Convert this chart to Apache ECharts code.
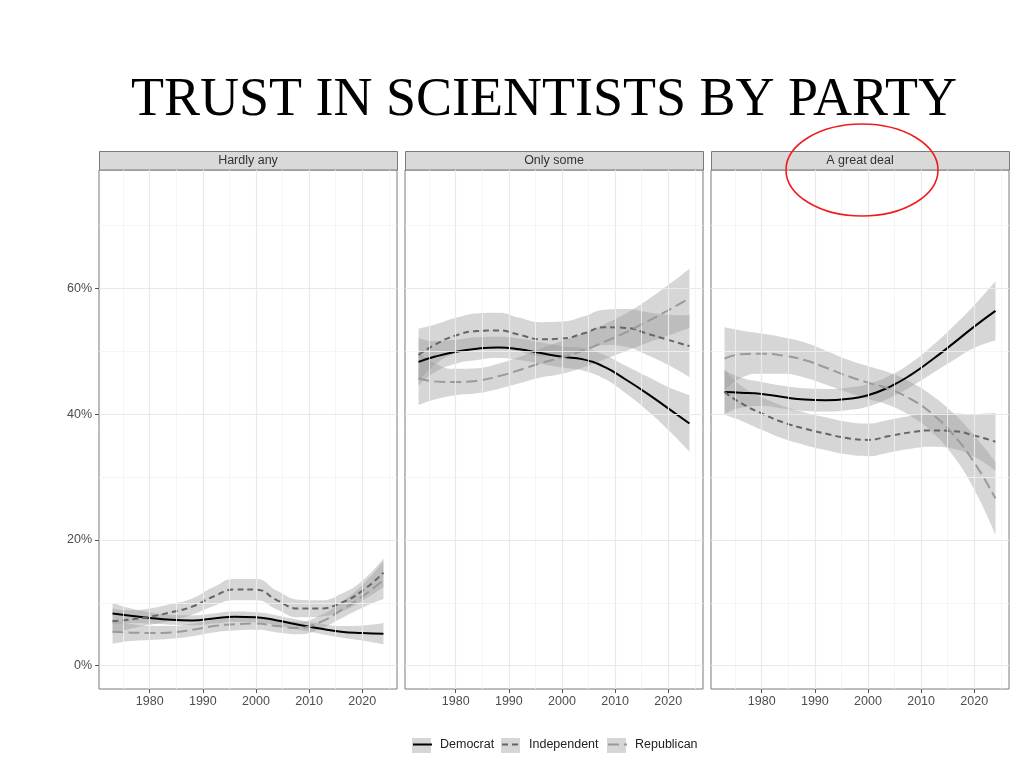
<!DOCTYPE html>
<html>
<head>
<meta charset="utf-8">
<title>Trust in scientists by party</title>
<script src="https://cdn.jsdelivr.net/npm/echarts@6/dist/echarts.min.js"></script>
<style>
  html, body { margin: 0; padding: 0; background: #fff; }
  #chart { width: 1024px; height: 777px; }
</style>
</head>
<body>
<div id="chart"></div>
<script>
const years = [1973, 1976, 1980, 1984, 1988, 1992, 1996, 2000, 2004, 2008, 2012, 2016, 2020, 2024];
const panels = ['Hardly any', 'Only some', 'A great deal'];
const parties = ['Democrat', 'Independent', 'Republican'];
const yearTicks = [1980, 1990, 2000, 2010, 2020];
const yearMinor = [1975, 1985, 1995, 2005, 2015, 2025];
const pctTicks = [0, 20, 40, 60];
const pctMinor = [10, 30, 50, 70];

// loess trend (%) and half width of its ribbon
const demHardly   = [8.3, 8.0, 7.6, 7.3, 7.2, 7.5, 7.8, 7.7, 7.2, 6.5, 5.9, 5.4, 5.2, 5.1];
const demHardlySe = [1.7, 1.2, 0.9, 0.8, 0.8, 0.8, 0.8, 0.8, 0.8, 0.8, 0.8, 0.9, 1.2, 1.7];
const indHardly   = [7.1, 7.3, 7.8, 8.5, 9.4, 11.0, 12.1, 12.1, 10.4, 9.1, 9.1, 10.0, 11.9, 14.8];
const indHardlySe = [2.0, 1.5, 1.3, 1.3, 1.3, 1.5, 1.7, 1.7, 1.5, 1.4, 1.3, 1.4, 1.6, 2.3];
const repHardly   = [5.4, 5.3, 5.2, 5.3, 5.7, 6.3, 6.6, 6.7, 6.3, 6.0, 6.9, 8.8, 11.0, 13.6];
const repHardlySe = [1.9, 1.4, 1.1, 1.0, 1.0, 1.0, 1.0, 1.0, 1.0, 1.0, 1.1, 1.3, 1.8, 3.0];

const demSome   = [48.3, 49.1, 49.9, 50.4, 50.6, 50.3, 49.7, 49.1, 48.7, 47.5, 45.5, 43.3, 40.9, 38.5];
const demSomeSe = [3.8, 2.5, 1.9, 1.8, 1.7, 1.7, 1.7, 1.7, 1.8, 1.9, 2.2, 2.7, 3.4, 4.5];
const indSome   = [49.4, 51.0, 52.5, 53.2, 53.3, 52.6, 51.9, 52.0, 52.8, 53.8, 53.7, 52.8, 51.8, 50.8];
const indSomeSe = [4.2, 3.2, 2.8, 2.8, 2.8, 2.7, 2.7, 2.7, 2.7, 2.8, 3.0, 3.4, 4.0, 4.9];
const repSome   = [45.7, 45.2, 45.1, 45.3, 46.0, 47.0, 48.1, 49.0, 50.1, 51.5, 53.0, 54.7, 56.5, 58.4];
const repSomeSe = [4.3, 2.9, 2.1, 2.0, 2.0, 2.1, 2.3, 2.6, 2.7, 2.8, 3.0, 3.4, 4.0, 4.7];

const demGreat   = [43.5, 43.4, 43.2, 42.7, 42.3, 42.2, 42.4, 43.0, 44.3, 46.2, 48.6, 51.2, 53.9, 56.4];
const demGreatSe = [3.5, 2.4, 1.9, 1.8, 1.8, 1.8, 1.8, 1.8, 1.8, 1.9, 2.2, 2.7, 3.4, 4.7];
const indGreat   = [43.5, 41.8, 40.1, 38.7, 37.7, 36.9, 36.2, 35.9, 36.5, 37.1, 37.4, 37.3, 36.6, 35.6];
const indGreatSe = [3.6, 2.8, 2.6, 2.6, 2.6, 2.6, 2.6, 2.6, 2.6, 2.6, 2.6, 2.8, 3.4, 4.6];
const repGreat   = [48.8, 49.5, 49.6, 49.3, 48.6, 47.4, 46.1, 45.0, 44.0, 42.4, 40.1, 36.8, 32.3, 26.6];
const repGreatSe = [5.0, 3.8, 3.2, 2.9, 2.8, 2.7, 2.6, 2.6, 2.6, 2.7, 2.9, 3.4, 4.3, 5.8];

const fits = {
    'Hardly any':   { Democrat: [demHardly, demHardlySe], Independent: [indHardly, indHardlySe], Republican: [repHardly, repHardlySe] },
    'Only some':    { Democrat: [demSome, demSomeSe], Independent: [indSome, indSomeSe], Republican: [repSome, repSomeSe] },
    'A great deal': { Democrat: [demGreat, demGreatSe], Independent: [indGreat, indGreatSe], Republican: [repGreat, repGreatSe] }
};

const lineStyles = {
    Democrat:    { color: '#000', width: 2, type: 'solid' },
    Independent: { color: '#666', width: 2, type: [6, 4] },
    Republican:  { color: '#9a9a9a', width: 2, type: [11, 5] }
};

// series sit on a (hidden) time axis so that stacking for the ribbons is done on y;
// a value axis with the same range carries the year ticks and labels
const msPerYear = 365.25 * 24 * 3600 * 1000;
const toTime = y => (y - 1970) * msPerYear;
const xMin = 1970.45, xMax = 2026.55;

const panelLeft = [99, 405, 711];
const panelWidth = 298;
const panelTop = 170;
const panelHeight = 519;
const legendLeft = [412, 501, 607];

const majorGrid = { color: '#e9e9e9', width: 1.2, type: 'solid' };
const minorGrid = { color: '#f2f2f2', width: 0.8, type: 'solid' };
const font = 'Liberation Sans, Arial, sans-serif';

let chart = echarts.init(document.getElementById('chart'));

let series = [];
panels.forEach((panel, i) => {
    // panel grid lines
    series.push({
        type: 'line', xAxisIndex: i, yAxisIndex: i, data: [], silent: true, z: 1,
        markLine: {
            silent: true,
            symbol: ['none', 'none'],
            label: { show: false },
            emphasis: { disabled: true },
            data: [
                ...pctMinor.map(v => ({ yAxis: v, lineStyle: minorGrid })),
                ...yearMinor.map(v => ({ xAxis: toTime(v), lineStyle: minorGrid })),
                ...pctTicks.map(v => ({ yAxis: v, lineStyle: majorGrid })),
                ...yearTicks.map(v => ({ xAxis: toTime(v), lineStyle: majorGrid }))
            ]
        }
    });
    parties.forEach(party => {
        const [mid, se] = fits[panel][party];
        const stack = 'band-' + i + '-' + party;
        series.push({
            name: party + ' band', type: 'line', xAxisIndex: i, yAxisIndex: i,
            stack: stack, smooth: true, symbol: 'none', silent: true, z: 2,
            lineStyle: { width: 0 },
            data: years.map((y, k) => [toTime(y), mid[k] - se[k]])
        });
        series.push({
            name: party + ' band', type: 'line', xAxisIndex: i, yAxisIndex: i,
            stack: stack, smooth: true, symbol: 'none', silent: true, z: 2,
            lineStyle: { width: 0 },
            areaStyle: { color: 'rgba(153,153,153,0.4)', opacity: 1 },
            data: years.map((y, k) => [toTime(y), 2 * se[k]])
        });
    });
    parties.forEach(party => {
        const mid = fits[panel][party][0];
        series.push({
            name: party, type: 'line', xAxisIndex: i, yAxisIndex: i,
            smooth: true, symbol: 'none', z: 3,
            lineStyle: lineStyles[party],
            itemStyle: { color: lineStyles[party].color },
            data: years.map((y, k) => [toTime(y), mid[k]])
        });
    });
});

let graphics = [];
panels.forEach((panel, i) => {
    graphics.push({
        type: 'rect', z: 0,
        shape: { x: panelLeft[i] + 0.5, y: 151.5, width: panelWidth, height: 18.5 },
        style: { fill: '#d9d9d9', stroke: '#7a7a7a', lineWidth: 1 }
    });
    graphics.push({
        type: 'text', z: 1,
        x: panelLeft[i] + panelWidth / 2, y: 161,
        style: { text: panel, align: 'center', verticalAlign: 'middle', font: '12.5px ' + font, fill: '#333' }
    });
});
legendLeft.forEach(x => {
    graphics.push({
        type: 'rect', z: 0,
        shape: { x: x, y: 738, width: 19, height: 15 },
        style: { fill: '#d6d6d6' }
    });
});
graphics.push({
    type: 'ellipse', z: 100,
    shape: { cx: 862, cy: 170, rx: 76, ry: 46 },
    style: { fill: 'none', stroke: '#f01c1c', lineWidth: 1.6 }
});

let timeAxes = panels.map((p, i) => ({
    type: 'time', gridIndex: i, position: 'top', min: toTime(xMin), max: toTime(xMax),
    axisLine: { show: false }, axisTick: { show: false }, axisLabel: { show: false },
    splitLine: { show: false }
}));
let yearAxes = panels.map((p, i) => ({
    type: 'value', gridIndex: i, position: 'bottom', min: xMin, max: xMax,
    axisLine: { show: false },
    splitLine: { show: false },
    axisTick: { show: true, customValues: yearTicks, length: 4, lineStyle: { color: '#555' } },
    axisLabel: {
        customValues: yearTicks, formatter: v => String(v),
        fontFamily: font, fontSize: 12.5, color: '#4d4d4d', margin: 6
    }
}));

let option = {
    animation: false,
    backgroundColor: '#fff',
    title: {
        text: 'TRUST IN SCIENTISTS BY PARTY',
        left: 126, top: 69,
        textStyle: { fontFamily: 'Liberation Serif', fontSize: 54, fontWeight: 'normal', color: '#000' }
    },
    legend: parties.map((p, k) => ({
        data: [p], left: legendLeft[k], top: 738, padding: 0,
        itemWidth: 19, itemHeight: 15, selectedMode: false,
        itemStyle: { opacity: 0 },
        textStyle: { fontFamily: font, fontSize: 12.5, color: '#222', padding: [0, 0, 0, 3] }
    })),
    grid: panels.map((p, i) => ({
        left: panelLeft[i], top: panelTop, width: panelWidth, height: panelHeight,
        show: true, backgroundColor: '#fff', borderColor: '#7a7a7a', borderWidth: 1
    })),
    xAxis: timeAxes.concat(yearAxes),
    yAxis: panels.map((p, i) => ({
        type: 'value', gridIndex: i, min: -3.7, max: 78.8,
        axisLine: { show: false },
        splitLine: { show: false },
        axisTick: { show: i === 0, customValues: pctTicks, length: 4, lineStyle: { color: '#555' } },
        axisLabel: {
            show: i === 0, customValues: pctTicks, formatter: '{value}%',
            fontFamily: font, fontSize: 12.5, color: '#4d4d4d', margin: 7
        }
    })),
    graphic: graphics,
    series: series
};

chart.setOption(option);
</script>
</body>
</html>
